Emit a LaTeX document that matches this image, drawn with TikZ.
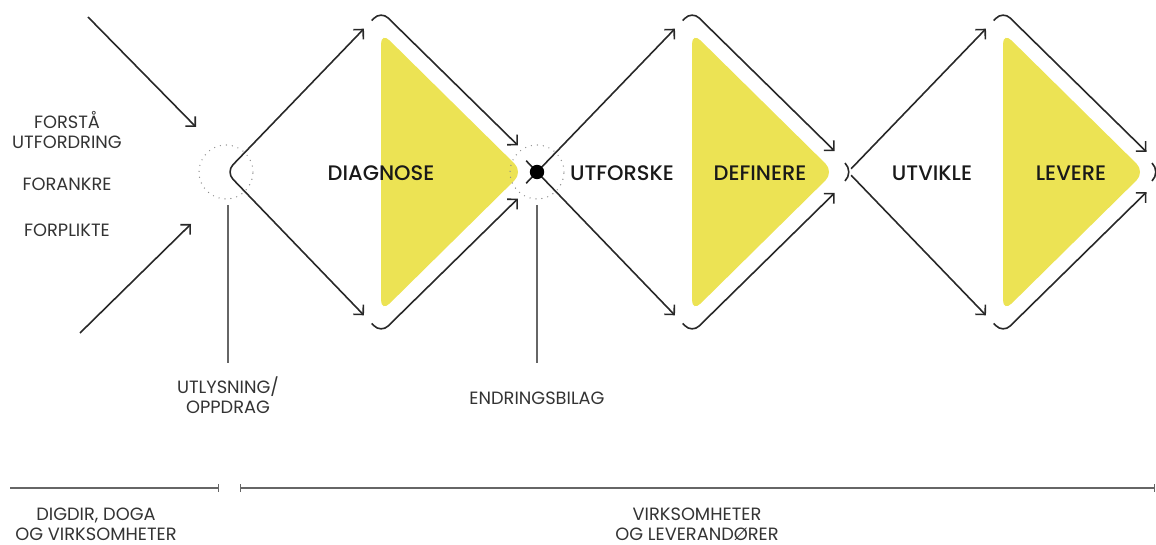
\documentclass[tikz,border=0pt]{standalone}
\usepackage{fontspec}
\setmainfont{Poppins}
\newfontfamily\phasefont{Poppins Medium}
\usetikzlibrary{arrows.meta,calc}
\definecolor{phaseyellow}{RGB}{236,227,84}
\definecolor{ink}{RGB}{40,40,40}
\tikzset{
  flow/.style={draw=ink, line width=0.8pt, -{Straight Barb[length=3.5pt,width=7pt]}},
  phase/.style={font=\fontsize{10.5}{12}\phasefont, text=black!90},
  note/.style={font=\fontsize{8.9}{10}\selectfont, text=black!80, align=center},
  ring/.style={draw=black!45, line width=0.7pt, line cap=round, dash pattern=on 0pt off 3pt},
  span/.style={draw=black!60, line width=0.7pt},
}
\begin{document}
\begin{tikzpicture}[x=0.5pt,y=-0.5pt]
  \useasboundingbox (0,0) rectangle (1156,545);

  % Corner points of the three diamonds
  \foreach \i/\cx/\f in {1/381/0.835, 2/692/0.87, 3/1003/0.875} {
    \coordinate (L\i) at (\cx-155,172);
    \coordinate (T\i) at (\cx,11);
    \coordinate (B\i) at (\cx,333);
    \coordinate (E\i) at (\cx+164,172);
    % yellow half
    \fill [phaseyellow, rounded corners=6pt] (\cx,32) -- (\cx+142,172) -- (\cx,312) -- cycle;
    % the hooks at top and bottom, then the converging arrows
    \draw [flow, rounded corners=5pt] ($(L\i)!0.94!(T\i)$) -- (T\i) -- ($(T\i)!\f!(E\i)$);
    \draw [flow, rounded corners=5pt] ($(L\i)!0.94!(B\i)$) -- (B\i) -- ($(B\i)!\f!(E\i)$);
  }

  % Dotted circles at the two decision points
  \draw [ring] (L1) circle (13.5pt);
  \draw [ring] (L2) circle (13.5pt);

  % Diverging arrows on the left side of each diamond
  \draw [flow, {Straight Barb[length=3.5pt,width=7pt]}-{Straight Barb[length=3.5pt,width=7pt]}, rounded corners=5pt]
    ($(L1)!0.89!(T1)$) -- (L1) -- ($(L1)!0.89!(B1)$);
  \draw [flow] ($(L2)!-0.07!(T2)$) -- ($(L2)!0.89!(T2)$);
  \draw [flow] ($(L2)!-0.07!(B2)$) -- ($(L2)!0.89!(B2)$);
  \draw [flow] ($(L3)!0.02!(T3)$) -- ($(L3)!0.89!(T3)$);
  \draw [flow] ($(L3)!0.02!(B3)$) -- ($(L3)!0.89!(B3)$);
  \draw [ink, line width=0.8pt] (845,163) .. controls (850,168) and (850,176) .. (845,181);
  \draw [ink, line width=0.8pt] (1152,163) .. controls (1157,168) and (1157,176) .. (1152,181);
  \fill [black] (L2) circle (3.6pt);

  % Incoming arrows
  \coordinate (inA) at (88,17);
  \coordinate (inAend) at (196,127);
  \coordinate (inB) at (80,333);
  \coordinate (inBend) at (191,224);
  \draw [flow] (inA) -- (inAend);
  \draw [flow] (inB) -- (inBend);

  % Phase names
  \foreach \x/\lab in {381/DIAGNOSE, 622/UTFORSKE, 760/DEFINERE, 932/UTVIKLE, 1071/LEVERE} {
    \node [phase] (ph-\lab) at (\x,173) {\lab};
  }

  % Labels on the left
  \node [note] (forsta) at (67,130) {FORSTÅ\\UTFORDRING};
  \node [note] (forankre) at (67,184) {FORANKRE};
  \node [note] (forplikte) at (67,230) {FORPLIKTE};

  % Markers below the decision points
  \coordinate (m1top) at (228,205);
  \coordinate (m1bot) at (228,363);
  \coordinate (m2top) at (537,205);
  \coordinate (m2bot) at (537,363);
  \draw [span] (m1top) -- (m1bot);
  \draw [span] (m2top) -- (m2bot);
  \node [note] (utlysning) at (228,395) {UTLYSNING/\\OPPDRAG};
  \node [note] (endring) at (537,398) {ENDRINGSBILAG};

  % Who is responsible
  \coordinate (r1a) at (10,488);
  \coordinate (r1b) at (219,488);
  \coordinate (r2a) at (240,488);
  \coordinate (r2b) at (1155,488);
  \draw [span, -{Bar[width=4pt]}] (r1a) -- (r1b);
  \draw [span, {Bar[width=4pt]}-{Bar[width=4pt]}] (r2a) -- (r2b);
  \node [note, inner sep=0pt] (owner1) at (96,524) {DIGDIR, DOGA\\OG VIRKSOMHETER};
  \node [note, inner sep=0pt] (owner2) at (697,524) {VIRKSOMHETER\\OG LEVERANDØRER};
\end{tikzpicture}
\end{document}
